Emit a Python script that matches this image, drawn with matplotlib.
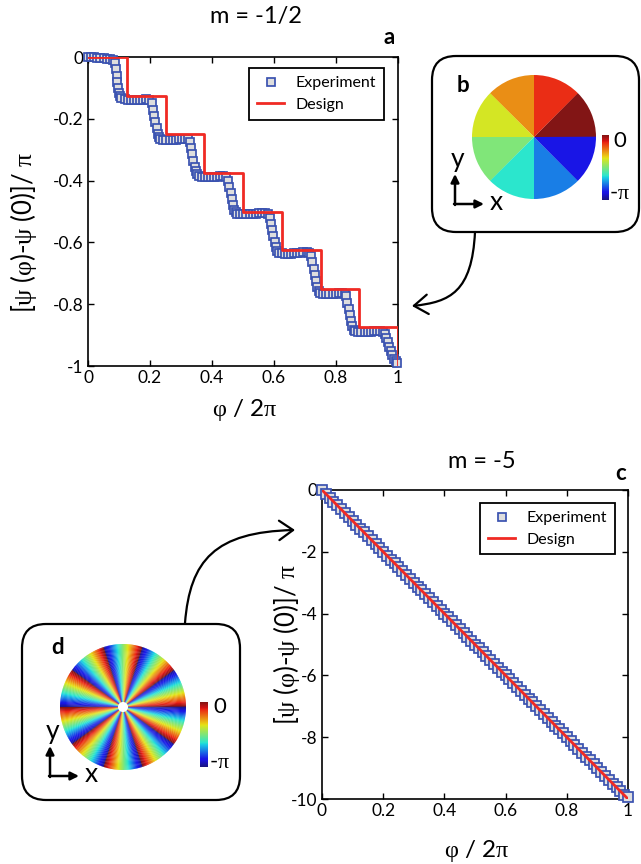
import numpy as np
import matplotlib
matplotlib.use('Agg')
import matplotlib.pyplot as plt
from matplotlib.colors import ListedColormap
from matplotlib.patches import FancyBboxPatch, FancyArrowPatch, Wedge, Circle
from matplotlib.path import Path

plt.rcParams['font.family'] = ['Lato', 'DejaVu Sans']
plt.rcParams['mathtext.fontset'] = 'custom'
plt.rcParams['mathtext.rm'] = 'Liberation Serif'
plt.rcParams['mathtext.it'] = 'Liberation Serif'

# ---------------- data ----------------
# panel a: m = -1/2, phase in units of pi
a_exp_x = [0.0, 0.01, 0.02, 0.03, 0.04, 0.05, 0.06, 0.07, 0.08,
           0.086, 0.089, 0.092, 0.095, 0.098, 0.101, 0.104,
           0.108, 0.118, 0.128, 0.138, 0.148, 0.158, 0.168, 0.178, 0.188, 0.198,
           0.205, 0.209, 0.213, 0.217, 0.221, 0.225, 0.229,
           0.233, 0.243, 0.253, 0.263, 0.273, 0.283, 0.293, 0.303, 0.313, 0.322,
           0.328, 0.332, 0.336, 0.340, 0.344, 0.348, 0.352,
           0.357, 0.367, 0.377, 0.387, 0.397, 0.407, 0.417, 0.427, 0.437, 0.446,
           0.452, 0.456, 0.460, 0.464, 0.468, 0.472, 0.476,
           0.481, 0.491, 0.501, 0.511, 0.521, 0.531, 0.541, 0.551, 0.561, 0.571, 0.580,
           0.586, 0.590, 0.594, 0.598, 0.602, 0.606, 0.610,
           0.615, 0.625, 0.635, 0.645, 0.655, 0.665, 0.675, 0.685, 0.695, 0.705, 0.714,
           0.720, 0.724, 0.728, 0.732, 0.736, 0.740, 0.744,
           0.749, 0.759, 0.769, 0.779, 0.789, 0.799, 0.809, 0.819, 0.828,
           0.833, 0.837, 0.841, 0.845, 0.849, 0.853, 0.857,
           0.862, 0.872, 0.882, 0.892, 0.902, 0.912, 0.922, 0.932, 0.942, 0.951,
           0.957, 0.962, 0.967, 0.972, 0.977, 0.982, 0.987, 0.992, 0.997]
a_exp_y = [0.0, 0.0, -0.001, -0.002, -0.003, -0.004, -0.005, -0.007, -0.010,
           -0.02, -0.04, -0.06, -0.08, -0.10, -0.115, -0.127,
           -0.134, -0.137, -0.139, -0.140, -0.140, -0.140, -0.139, -0.138, -0.137, -0.138,
           -0.150, -0.170, -0.190, -0.210, -0.230, -0.250, -0.260,
           -0.265, -0.267, -0.268, -0.268, -0.268, -0.267, -0.266, -0.265, -0.264, -0.266,
           -0.275, -0.295, -0.315, -0.335, -0.355, -0.370, -0.380,
           -0.386, -0.388, -0.389, -0.389, -0.389, -0.388, -0.387, -0.386, -0.385, -0.388,
           -0.400, -0.420, -0.440, -0.460, -0.480, -0.495, -0.503,
           -0.507, -0.509, -0.509, -0.509, -0.509, -0.508, -0.507, -0.506, -0.505, -0.504, -0.507,
           -0.520, -0.540, -0.560, -0.580, -0.600, -0.615, -0.627,
           -0.633, -0.635, -0.636, -0.636, -0.636, -0.635, -0.634, -0.633, -0.632, -0.632, -0.635,
           -0.645, -0.665, -0.685, -0.705, -0.725, -0.745, -0.757,
           -0.763, -0.766, -0.767, -0.767, -0.767, -0.766, -0.765, -0.764, -0.766,
           -0.775, -0.795, -0.815, -0.835, -0.855, -0.870, -0.882,
           -0.887, -0.889, -0.890, -0.890, -0.890, -0.889, -0.888, -0.887, -0.887, -0.890,
           -0.897, -0.908, -0.922, -0.937, -0.952, -0.966, -0.976, -0.985, -0.990]
a_design_x = [0.0, 0.125, 0.25, 0.375, 0.5, 0.625, 0.75, 0.875, 1.0]
a_design_y = [0.0, -0.125, -0.25, -0.375, -0.5, -0.625, -0.75, -0.875, -1.0]

# panel c: m = -5
c_exp_x = [0.0, 0.0125, 0.025, 0.0375, 0.05, 0.0625, 0.075, 0.0875,
           0.1, 0.1125, 0.125, 0.1375, 0.15, 0.1625, 0.175, 0.1875,
           0.2, 0.2125, 0.225, 0.2375, 0.25, 0.2625, 0.275, 0.2875,
           0.3, 0.3125, 0.325, 0.3375, 0.35, 0.3625, 0.375, 0.3875,
           0.4, 0.4125, 0.425, 0.4375, 0.45, 0.4625, 0.475, 0.4875,
           0.5, 0.5125, 0.525, 0.5375, 0.55, 0.5625, 0.575, 0.5875,
           0.6, 0.6125, 0.625, 0.6375, 0.65, 0.6625, 0.675, 0.6875,
           0.7, 0.7125, 0.725, 0.7375, 0.75, 0.7625, 0.775, 0.7875,
           0.8, 0.8125, 0.825, 0.8375, 0.85, 0.8625, 0.875, 0.8875,
           0.9, 0.9125, 0.925, 0.9375, 0.95, 0.9625, 0.975, 0.9875, 1.0]
c_exp_y = [0.0, -0.125, -0.25, -0.375, -0.5, -0.625, -0.75, -0.875,
           -1.0, -1.125, -1.25, -1.375, -1.5, -1.625, -1.75, -1.875,
           -2.0, -2.125, -2.25, -2.375, -2.5, -2.625, -2.75, -2.875,
           -3.0, -3.125, -3.25, -3.375, -3.5, -3.625, -3.75, -3.875,
           -4.0, -4.125, -4.25, -4.375, -4.5, -4.625, -4.75, -4.875,
           -5.0, -5.125, -5.25, -5.375, -5.5, -5.625, -5.75, -5.875,
           -6.0, -6.125, -6.25, -6.375, -6.5, -6.625, -6.75, -6.875,
           -7.0, -7.125, -7.25, -7.375, -7.5, -7.625, -7.75, -7.875,
           -8.0, -8.125, -8.25, -8.375, -8.5, -8.625, -8.75, -8.875,
           -9.0, -9.125, -9.25, -9.375, -9.5, -9.625, -9.75, -9.875, -9.95]
c_design_x = [0.0, 1.0]
c_design_y = [0.0, -10.0]

x_ticks = [0, 0.2, 0.4, 0.6, 0.8, 1]
x_ticklabels = ['0', '0.2', '0.4', '0.6', '0.8', '1']
a_yticks = [0, -0.2, -0.4, -0.6, -0.8, -1]
a_yticklabels = ['0', '-0.2', '-0.4', '-0.6', '-0.8', '-1']
c_yticks = [0, -2, -4, -6, -8, -10]
c_yticklabels = ['0', '-2', '-4', '-6', '-8', '-10']

# phase wheels (phase / pi)
b_sector_phase = [0.0, -0.125, -0.25, -0.375, -0.5, -0.625, -0.75, -0.875]
d_periods = 10

# ---------------- layout helpers ----------------
W, H = 641, 864
fig = plt.figure(figsize=(W / 100, H / 100), dpi=100)


def rect(x0, y0, w, h):
    return [x0 / W, 1 - (y0 + h) / H, w / W, h / H]


ov = fig.add_axes([0, 0, 1, 1], zorder=-1)
ov.set_xlim(0, W)
ov.set_ylim(H, 0)
ov.axis('off')

blue = '#3a52b0'
red = '#f02a24'
ylab = r'[$\psi$ ($\varphi$)-$\psi$ (0)]/ $\pi$'
xlab = r'$\varphi$ / 2$\pi$'

# slightly muted jet, like the printed figure
_jet = plt.get_cmap('jet')(np.linspace(0, 1, 256))
_jet[:, :3] = 0.82 * _jet[:, :3] + 0.18 * np.array([0.55, 0.45, 0.45])
cmap = ListedColormap(_jet)


def make_panel(box, ex, ey, dx, dy, yt, ytl, ylim, leg_anchor, ms, dstyle):
    ax = fig.add_axes(rect(*box))
    ax.plot(ex, ey, 's', ms=ms, mfc='#dedede', mec=blue, mew=1.25,
            clip_on=False, zorder=3, label='Experiment')
    ax.plot(dx, dy, color=red, lw=2.0, drawstyle=dstyle, zorder=4,
            label='Design')
    ax.set_xlim(0, 1)
    ax.set_ylim(*ylim)
    ax.set_xticks(x_ticks)
    ax.set_xticklabels(x_ticklabels)
    ax.set_yticks(yt)
    ax.set_yticklabels(ytl)
    ax.tick_params(direction='in', top=True, right=True, length=4, width=1,
                   labelsize=12.5, pad=3)
    for s in ax.spines.values():
        s.set_linewidth(1.2)
    leg = ax.legend(loc='upper right', bbox_to_anchor=leg_anchor, borderaxespad=0,
                    numpoints=1, fancybox=False, fontsize=11.5, handlelength=1.7,
                    handletextpad=0.7, borderpad=0.5, labelspacing=0.45,
                    framealpha=1, markerscale=6.4 / ms)
    leg.get_frame().set_edgecolor('black')
    leg.get_frame().set_linewidth(1.3)
    return ax


ax_a = make_panel((88, 57, 310, 309), a_exp_x, a_exp_y, a_design_x, a_design_y,
                  a_yticks, a_yticklabels, (-1, 0), (0.955, 0.964), 6.4, 'steps-post')
ax_c = make_panel((322, 490, 306, 309), c_exp_x, c_exp_y, c_design_x, c_design_y,
                  c_yticks, c_yticklabels, (-10, 0), (0.957, 0.958), 7.4, 'default')

# titles, labels, panel letters
ov.text(256, 16, 'm = -1/2', fontsize=17, ha='center', va='center')
ov.text(389, 38, 'a', fontsize=16, fontweight='bold', ha='center', va='center')
ov.text(482, 461, 'm = -5', fontsize=17, ha='center', va='center')
ov.text(621, 473, 'c', fontsize=16, fontweight='bold', ha='center', va='center')
ov.text(24, 233, ylab, fontsize=18.5, rotation=90, ha='center', va='center')
ov.text(287, 645, ylab, fontsize=18.5, rotation=90, ha='center', va='center')
ov.text(245, 410, xlab, fontsize=17.5, ha='center', va='center')
ov.text(477, 851, xlab, fontsize=17.5, ha='center', va='center')

# inset boxes
for (x0, y0, w, h) in [(432, 56, 207, 176), (22, 624, 218, 176)]:
    ov.add_patch(FancyBboxPatch((x0, y0), w, h, boxstyle='round,pad=0,rounding_size=24',
                                fc='white', ec='black', lw=1.6))


def wheel(cx, cy, r, sectors, hole):
    wa = fig.add_axes(rect(cx - r, cy - r, 2 * r, 2 * r))
    n = len(sectors)
    for k, v in enumerate(sectors):
        wa.add_patch(Wedge((0, 0), 1, 360 * k / n, 360 * (k + 1) / n + 0.3,
                           color=cmap(1 + v), lw=0))
    if hole:
        wa.add_patch(Circle((0, 0), hole, color='white', lw=0))
    wa.set_xlim(-1, 1)
    wa.set_ylim(-1, 1)
    wa.set_aspect('equal')
    wa.axis('off')


# b: 8 quantised sectors
wheel(534, 137, 62, b_sector_phase, 0)
# d: smooth phase, d_periods windings
n_sub = 36
d_sectors = [-(j % n_sub) / n_sub for j in range(d_periods * n_sub)]
wheel(123, 707, 63, d_sectors, 0.08)


def colorbar(x0, y0, w, h, tx, ty_top, ty_bot):
    ca = fig.add_axes(rect(x0, y0, w, h))
    ca.imshow(np.linspace(0, 1, 256)[:, None], cmap=cmap, aspect='auto', origin='lower')
    ca.axis('off')
    ov.text(tx, ty_top, '0', fontsize=16, ha='left', va='center')
    ov.text(tx - 4, ty_bot, r'-$\pi$', fontsize=16, ha='left', va='center')


colorbar(602, 135, 7, 65, 613, 141, 193)
colorbar(200, 702, 8, 65, 213, 707, 762)

# xy frame arrows and letters in insets
for (cx, cy, ytip, xtip, letter, letter_xy) in [(455, 204, 174, 484, 'b', (463, 85)),
                                                 (50, 776, 746, 79, 'd', (58, 647))]:
    ov.annotate('', xy=(cx, ytip), xytext=(cx, cy + 1),
                arrowprops=dict(arrowstyle='-|>', lw=1.8, color='black',
                                mutation_scale=12, shrinkA=0, shrinkB=0))
    ov.annotate('', xy=(xtip, cy), xytext=(cx - 1, cy),
                arrowprops=dict(arrowstyle='-|>', lw=1.8, color='black',
                                mutation_scale=12, shrinkA=0, shrinkB=0))
    ov.text(cx + 3, ytip - 15, 'y', fontsize=19, ha='center', va='center')
    ov.text(xtip + 12, cy - 1, 'x', fontsize=19, ha='center', va='center')
    ov.text(letter_xy[0], letter_xy[1], letter, fontsize=16,
            fontweight='bold', ha='center', va='center')

# curved connector arrows
curves = [[(475, 232), (472, 292), (450, 302), (412, 306)],
          [(185, 623), (190, 560), (215, 532), (295, 530)]]
for verts in curves:
    p = Path(verts, [Path.MOVETO, Path.CURVE4, Path.CURVE4, Path.CURVE4])
    ov.add_patch(FancyArrowPatch(path=p, arrowstyle='->,head_length=0.5,head_width=0.35',
                                 mutation_scale=20, lw=1.6, color='black'))

fig.savefig('out.png', dpi=100)
